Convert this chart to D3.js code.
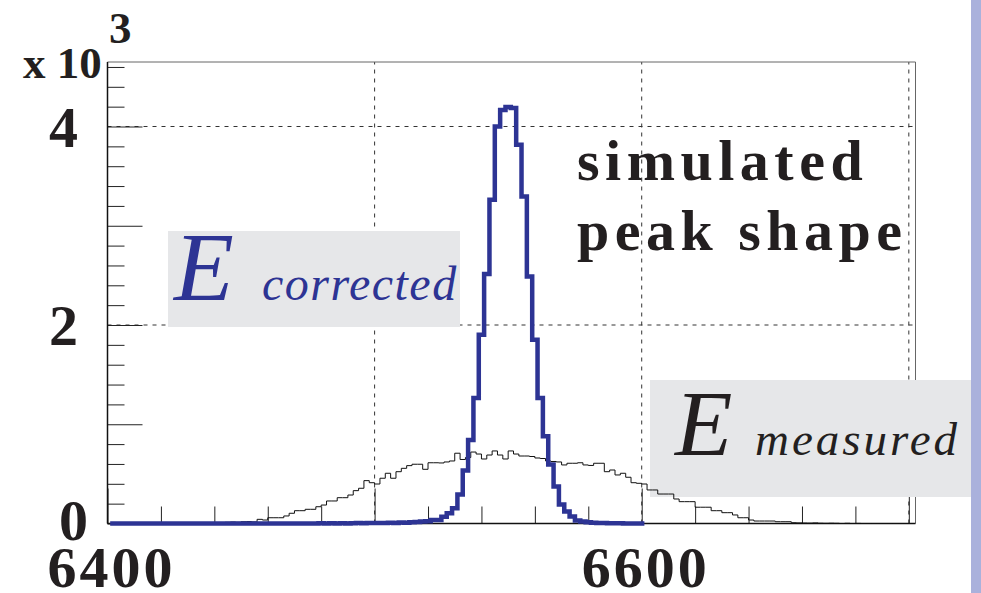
<!DOCTYPE html>
<html>
<head>
<meta charset="utf-8">
<script src="https://cdn.jsdelivr.net/npm/d3@7"></script>
<style>
    body { margin: 0; background: #ffffff; }
    svg { display: block; }
</style>
</head>
<body>
<div id="chart"></div>
<script>
// Гистограммы энергии (отсчёты на бин шириной 2)
const binWidth = 2;
const measuredStart = 6400;
const correctedStart = 6401;

const measuredCounts = [
    0, 0, 0, 0, 0, 2, 0, 0, 3, 0,
    2, 0, 3, 2, 4, 3, 5, 4, 6, 8,
    10, 8, 12, 15, 12, 18, 20, 16, 42, 35,
    58, 58, 58, 76, 103, 129, 129, 143, 143, 169,
    186, 227, 227, 260, 260, 287, 331, 355, 432, 411,
    398, 456, 506, 456, 522, 556, 583, 597, 597, 546,
    612, 612, 610, 620, 630, 708, 645, 665, 720, 700,
    650, 690, 731, 690, 650, 731, 700, 680, 680, 675,
    660, 655, 630, 625, 620, 590, 607, 607, 612, 590,
    585, 607, 607, 522, 539, 489, 506, 466, 411, 405,
    398, 338, 338, 297, 297, 297, 247, 220, 220, 220,
    164, 164, 164, 129, 129, 109, 109, 86, 58, 58,
    35, 25, 25, 25, 25, 18, 18, 18, 8, 6,
    5, 4, 6, 3, 2, 3, 2, 0, 2, 0,
    1, 0, 0, 0, 0, 0, 0, 0, 0, 0
];

const correctedCounts = [
    0, 0, 0, 0, 0, 0, 0, 0, 0, 0,
    0, 0, 0, 0, 0, 0, 0, 0, 0, 0,
    0, 0, 0, 0, 0, 0, 0, 0, 0, 0,
    0, 0, 0, 0, 0, 0, 0, 0, 0, 2,
    0, 2, 0, 3, 0, 2, 4, 3, 5, 4,
    6, 5, 8, 6, 10, 8, 12, 15, 20, 22,
    35, 35, 69, 103, 153, 292, 535, 842, 1265, 1902,
    2513, 3261, 3999, 4167, 4197, 4187, 3815, 3294, 2489, 1852,
    1265, 880, 594, 372, 191, 120, 70, 30, 20, 12,
    8, 6, 4, 3, 2, 2, 1, 0, 0, 0
];

// Подписи и сетка
const xLabelValues = [6400, 6600];
const yLabelValues = [0, 2000, 4000];
const gridXValues = [6500, 6600, 6700];
const gridYValues = [2000, 4000];

const width = 981;
const height = 593;
const blue = "#2d3494";
const boxFill = "#e6e7e9";
const serif = "'Liberation Serif', 'Times New Roman', serif";

const svg = d3.select("#chart").append("svg")
    .attr("width", width)
    .attr("height", height);

// Шкалы
const x = d3.scaleLinear().domain([6400, 6702.5]).range([107.5, 915.5]);
const y = d3.scaleLinear().domain([0, 4650]).range([523.5, 62]);

// Полоса справа
svg.append("rect")
    .attr("x", 971).attr("y", 0)
    .attr("width", 10).attr("height", height)
    .attr("fill", "#aab1dc");

// Пунктирная сетка
gridXValues.forEach(v => {
    svg.append("line")
        .attr("x1", x(v)).attr("x2", x(v))
        .attr("y1", y(0)).attr("y2", y(4650))
        .attr("stroke", "#333")
        .attr("stroke-dasharray", "4,5");
});
gridYValues.forEach(v => {
    svg.append("line")
        .attr("x1", x(6400)).attr("x2", x(6702.5))
        .attr("y1", y(v)).attr("y2", y(v))
        .attr("stroke", "#333")
        .attr("stroke-dasharray", "4,5");
});

// Засечки осей (внутрь рамки)
function tickAxis(axis, values, size) {
    const g = svg.append("g").call(axis.tickValues(values).tickSize(size).tickFormat(""));
    g.select(".domain").remove();
    g.selectAll("line").attr("stroke", "#222");
    return g;
}
const yMinor = d3.range(0, 4650, 200).filter(v => v % 1000 !== 0);
const yMajor = d3.range(0, 4650, 1000);
tickAxis(d3.axisLeft(y), yMinor, -17).attr("transform", `translate(${x(6400)},0)`);
tickAxis(d3.axisLeft(y), yMajor, -35).attr("transform", `translate(${x(6400)},0)`);
const xMinor = d3.range(6400, 6703, 20).filter(v => v % 100 !== 0);
const xMajor = d3.range(6400, 6703, 100);
tickAxis(d3.axisBottom(x), xMinor, -17).attr("transform", `translate(0,${y(0)})`);
tickAxis(d3.axisBottom(x), xMajor, -35).attr("transform", `translate(0,${y(0)})`);

// Рамка
svg.append("line")
    .attr("x1", x(6400)).attr("x2", x(6702.5))
    .attr("y1", y(4650)).attr("y2", y(4650))
    .attr("stroke", "#666");
svg.append("line")
    .attr("x1", x(6702.5)).attr("x2", x(6702.5))
    .attr("y1", y(4650)).attr("y2", y(0))
    .attr("stroke", "#666");
svg.append("line")
    .attr("x1", x(6400)).attr("x2", x(6400))
    .attr("y1", y(4650)).attr("y2", y(0))
    .attr("stroke", "#111").attr("stroke-width", 1.5);
svg.append("line")
    .attr("x1", x(6400)).attr("x2", x(6702.5))
    .attr("y1", y(0)).attr("y2", y(0))
    .attr("stroke", "#111").attr("stroke-width", 1.5);

// Серые плашки легенды
svg.append("rect")
    .attr("x", 168).attr("y", 231).attr("width", 292).attr("height", 96)
    .attr("fill", boxFill);
svg.append("rect")
    .attr("x", 650).attr("y", 380).attr("width", 321).attr("height", 117)
    .attr("fill", boxFill);

// Ступенчатые гистограммы
function histPath(start, counts) {
    const pts = [[start, 0]];
    counts.forEach((c, i) => pts.push([start + i * binWidth, c]));
    const end = start + counts.length * binWidth;
    pts.push([end, counts[counts.length - 1]]);
    pts.push([end, 0]);
    return d3.line()
        .x(d => x(d[0]))
        .y(d => y(d[1]))
        .curve(d3.curveStepAfter)(pts);
}

svg.append("path")
    .attr("d", histPath(measuredStart, measuredCounts))
    .attr("fill", "none")
    .attr("stroke", "#111")
    .attr("stroke-width", 1);

svg.append("path")
    .attr("d", histPath(correctedStart, correctedCounts))
    .attr("fill", "none")
    .attr("stroke", blue)
    .attr("stroke-width", 4.5)
    .attr("stroke-linejoin", "miter");

// Подписи осей
svg.selectAll(".y-label")
    .data(yLabelValues)
    .enter()
    .append("text")
    .attr("class", "y-label")
    .attr("x", d => d === 0 ? 88 : 78)
    .attr("y", d => y(d) + (d === 0 ? 16 : 20))
    .attr("text-anchor", "end")
    .text(d => d / 1000)
    .style("font-family", serif)
    .style("font-weight", "bold")
    .style("font-size", "58px")
    .style("fill", "#231f20");

svg.selectAll(".x-label")
    .data(xLabelValues)
    .enter()
    .append("text")
    .attr("class", "x-label")
    .attr("x", d => x(d) + 4)
    .attr("y", 587)
    .attr("text-anchor", "middle")
    .text(d => d)
    .style("font-family", serif)
    .style("font-weight", "bold")
    .style("font-size", "58px")
    .style("letter-spacing", "3px")
    .style("fill", "#231f20");

// Множитель x 10^3
svg.append("text")
    .attr("x", 23).attr("y", 78)
    .text("x 10")
    .style("font-family", serif)
    .style("font-weight", "bold")
    .style("font-size", "45px")
    .style("fill", "#231f20");
svg.append("text")
    .attr("x", 109).attr("y", 43)
    .text("3")
    .style("font-family", serif)
    .style("font-weight", "bold")
    .style("font-size", "45px")
    .style("fill", "#231f20");

// Заголовок внутри графика
const titleLines = [
    { text: "simulated", x: 577, y: 180 },
    { text: "peak shape", x: 577, y: 250 }
];
titleLines.forEach(t => {
    svg.append("text")
        .attr("x", t.x).attr("y", t.y)
        .text(t.text)
        .style("font-family", serif)
        .style("font-weight", "bold")
        .style("font-size", "58px")
        .style("letter-spacing", "5.5px")
        .style("fill", "#231f20");
});

// Подписи легенды
function legendLabel(xE, xSub, baseline, sub, color, eSize, subSize, spacing) {
    svg.append("text")
        .attr("x", xE).attr("y", baseline)
        .text("E")
        .style("font-family", serif)
        .style("font-style", "italic")
        .style("font-size", eSize + "px")
        .style("fill", color);
    svg.append("text")
        .attr("x", xSub).attr("y", baseline)
        .text(sub)
        .style("font-family", serif)
        .style("font-style", "italic")
        .style("font-size", subSize + "px")
        .style("letter-spacing", spacing + "px")
        .style("fill", color);
}
legendLabel(174, 262, 300, "corrected", blue, 98, 48, 1.5);
legendLabel(675, 755, 455, "measured", "#231f20", 94, 47, 3);
</script>
</body>
</html>
